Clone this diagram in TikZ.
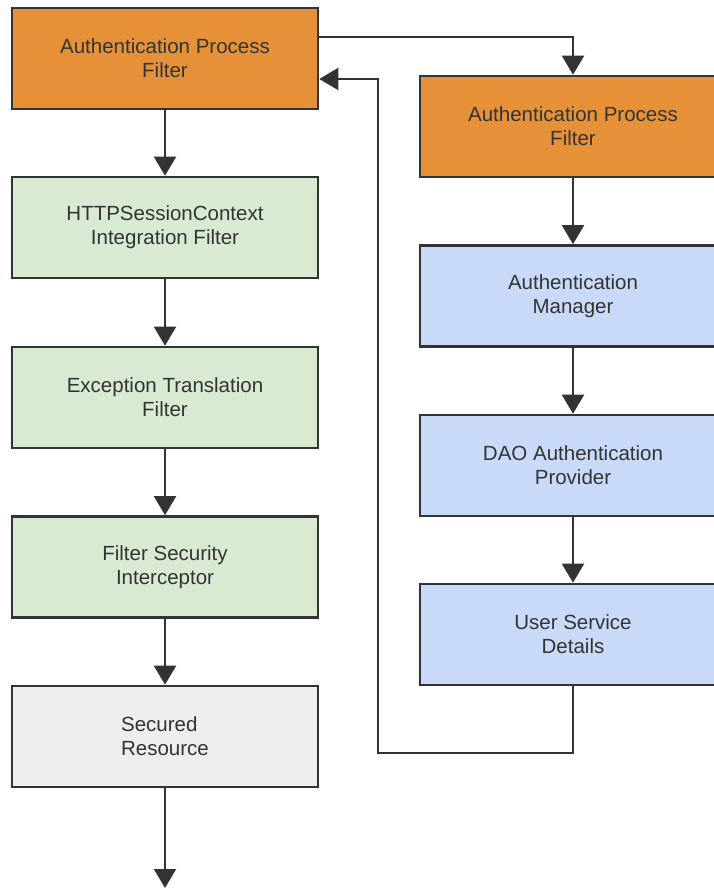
\documentclass[tikz,border=0pt]{standalone}
\usepackage{fontspec}
\setmainfont{Liberation Sans}
\usetikzlibrary{arrows.meta}
\definecolor{lineclr}{HTML}{333333}
\definecolor{orangefill}{HTML}{E69138}
\definecolor{greenfill}{HTML}{D9EAD3}
\definecolor{bluefill}{HTML}{C9DAF8}
\definecolor{grayfill}{HTML}{EEEEEE}
\tikzset{
  box/.style={draw=lineclr, line width=2.6pt, minimum width=306pt, minimum height=101pt,
    inner sep=0pt, align=center, text=lineclr,
    font=\fontsize{20.5pt}{24pt}\selectfont},
  orangebox/.style={box, fill=orangefill},
  greenbox/.style={box, fill=greenfill},
  bluebox/.style={box, fill=bluefill},
  graybox/.style={box, fill=grayfill},
  flow/.style={draw=lineclr, line width=2pt,
    -{Triangle[width=22pt,length=19pt]}},
}
\begin{document}
\begin{tikzpicture}[x=1pt,y=-1pt]
\useasboundingbox (0,0) rectangle (714,889);
\fill[white] (0,0) rectangle (714,889);

% left column: the filter chain
\node[orangebox] (apfa) at (165,58.5) {Authentication Process\\Filter};
\node[greenbox]  (hsc)  at (165,227.5) {HTTPSessionContext\\Integration Filter};
\node[greenbox]  (etf)  at (165,397.5) {Exception Translation\\Filter};
\node[greenbox]  (fsi)  at (165,567) {Filter Security\\Interceptor};
\node[graybox, align=left] (sres) at (165,736.5) {Secured\\Resource};
\coordinate (out) at (165,888);

% right column: the authentication path
\node[orangebox] (apfb) at (573,126.5) {Authentication Process\\Filter};
\node[bluebox]   (amgr) at (573,296) {Authentication\\Manager};
\node[bluebox]   (dao)  at (573,465.5) {DAO Authentication\\Provider};
\node[bluebox]   (usd)  at (573,634.5) {User Service\\Details};

% chain arrows
\draw[flow] (apfa) -- (hsc);
\draw[flow] (hsc) -- (etf);
\draw[flow] (etf) -- (fsi);
\draw[flow] (fsi) -- (sres);
\draw[flow] (sres) -- (out);

\draw[flow] (apfb) -- (amgr);
\draw[flow] (amgr) -- (dao);
\draw[flow] (dao) -- (usd);

% hand-off to the authentication path and the return
\coordinate (hand) at (apfa.east |- 0,37);
\draw[flow] (hand) -| (apfb.north);
\coordinate (retbot) at (573,753);
\coordinate (retleft) at (378,753);
\coordinate (rettop) at (378,79);
\coordinate (retend) at (apfa.east |- 0,79);
\draw[flow] (usd.south) -- (retbot) -- (retleft) -- (rettop) -- (retend);
\end{tikzpicture}
\end{document}
